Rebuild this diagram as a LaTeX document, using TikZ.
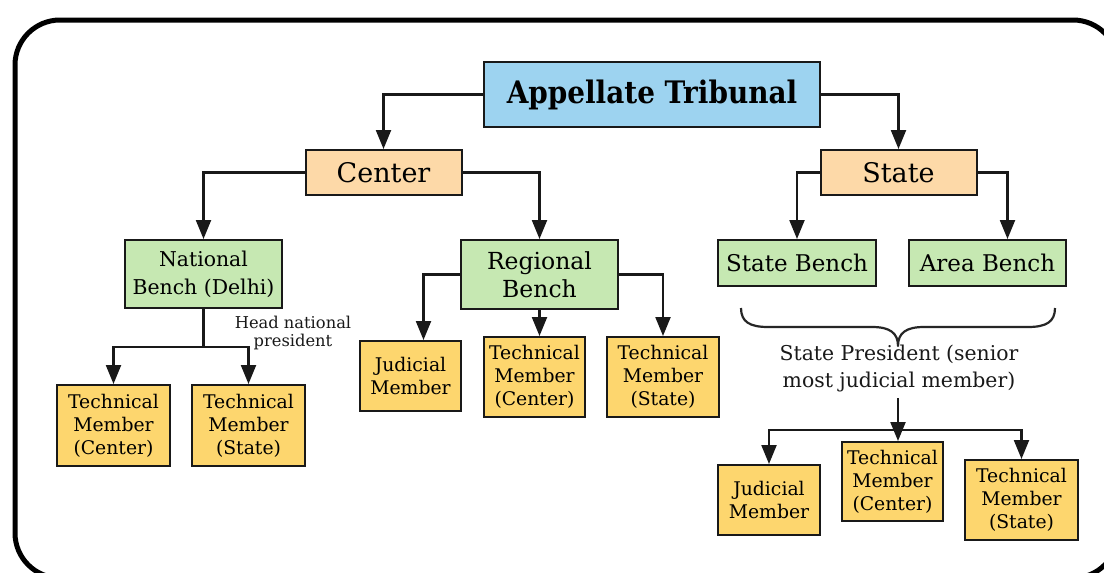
\documentclass[tikz,border=0pt]{standalone}
\usepackage{fontspec}
\setmainfont{DejaVu Serif}
\newfontfamily\condfont{DejaVu Serif Condensed}
\usetikzlibrary{arrows.meta}
\definecolor{boxblue}{RGB}{157,211,240}
\definecolor{boxpeach}{RGB}{253,217,168}
\definecolor{boxgreen}{RGB}{198,232,178}
\definecolor{boxyellow}{RGB}{253,214,110}
\tikzset{
  base/.style={draw=black!90, line width=2pt, align=center, inner sep=0pt, text=black},
  titlebox/.style={base, fill=boxblue, minimum width=336pt, minimum height=65pt, font=\condfont\bfseries\fontsize{31}{34}\selectfont},
  peachbox/.style={base, fill=boxpeach, minimum width=156pt, minimum height=45pt, font=\fontsize{27}{30}\selectfont},
  greenbox/.style={base, fill=boxgreen, minimum width=157pt, font=\fontsize{21}{28}\selectfont},
  yellowbox/.style={base, fill=boxyellow, font=\fontsize{18.8}{23}\selectfont},
  arr/.style={line width=2.2pt, draw=black!90, -{Triangle[length=19pt,width=15pt]}},
  ln/.style={line width=2.2pt, draw=black!90},
  note/.style={align=center, inner sep=0pt, text=black!90},
}
\begin{document}
\begin{tikzpicture}[x=1pt,y=-1pt]
\useasboundingbox (0,0) rectangle (1104,573);
\fill[white] (0,0) rectangle (1104,573);
\draw[line width=5pt, rounded corners=45pt] (15,20) rectangle (1118,578);

\node[titlebox] (at) at (652,94.5) {Appellate Tribunal};
\node[peachbox] (ce) at (383.5,172.5) {Center};
\node[peachbox] (st) at (898.5,172.5) {State};
\node[greenbox, minimum height=68pt, font=\fontsize{20.4}{28}\selectfont] (nb) at (203.5,274) {National\\Bench (Delhi)};
\node[greenbox, minimum height=69pt, font=\fontsize{23.5}{27.5}\selectfont] (rb) at (539.5,274.5) {Regional\\Bench};
\node[greenbox, minimum height=46pt, minimum width=158pt, font=\fontsize{23}{27}\selectfont] (sb) at (797,263) {State Bench};
\node[greenbox, minimum height=46pt, font=\fontsize{23}{27}\selectfont] (ab) at (987.5,263) {Area Bench};

\node[yellowbox, minimum width=113pt, minimum height=81pt] (tc1) at (113.5,425.5) {Technical\\Member\\(Center)};
\node[yellowbox, minimum width=113pt, minimum height=81pt] (ts1) at (248.5,425.5) {Technical\\Member\\(State)};
\node[yellowbox, minimum width=101pt, minimum height=70pt] (jm2) at (410.5,376) {Judicial\\Member};
\node[yellowbox, minimum width=101pt, minimum height=80pt] (tc2) at (534.5,377) {Technical\\Member\\(Center)};
\node[yellowbox, minimum width=112pt, minimum height=80pt] (ts2) at (663,377) {Technical\\Member\\(State)};
\node[yellowbox, minimum width=102pt, minimum height=70pt] (jm3) at (769,500) {Judicial\\Member};
\node[yellowbox, minimum width=101pt, minimum height=79pt] (tc3) at (892.5,481.5) {Technical\\Member\\(Center)};
\node[yellowbox, minimum width=113pt, minimum height=80pt] (ts3) at (1021.5,500) {Technical\\Member\\(State)};

\node[note, font=\fontsize{16.3}{18.5}\selectfont] (hnp) at (293,333) {Head national\\president};
\node[note, font=\fontsize{20.4}{27}\selectfont] (sp) at (899,369) {State President (senior\\most judicial member)};

% connectors
\draw[arr] (at.west) -| (ce.north);
\draw[arr] (at.east) -| (st.north);
\draw[arr] (ce.west) -| (nb.north);
\draw[arr] (ce.east) -| (rb.north);
\draw[arr] (st.west) -| (sb.north);
\draw[arr] (st.east) -| ([xshift=20pt]ab.north);

\coordinate (nbj) at (203.5,347);
\draw[ln] (nb.south) -- (nbj);
\draw[arr] (nbj) -| (tc1.north);
\draw[arr] (nbj) -| (ts1.north);

\draw[arr] (rb.west) -| ([xshift=13pt]jm2.north);
\draw[arr] (rb.south) -- (rb.south |- tc2.north);
\draw[arr] (rb.east) -| (ts2.north);

% brace
\draw[line width=2.2pt, draw=black!85, line join=round]
  (741,308) .. controls (741,322) and (750,327) .. (768,327)
  -- (872,327) .. controls (890,327) and (898,333) .. (898,346)
  .. controls (898,333) and (906,327) .. (924,327)
  -- (1028,327) .. controls (1046,327) and (1055,322) .. (1055,308);

\coordinate (spj) at (898,430);
\coordinate (sptop) at (898,398);
\draw[arr] (sptop) -- (sptop |- tc3.north);
\draw[arr] (spj) -| (jm3.north);
\draw[arr] (spj) -| (ts3.north);
\end{tikzpicture}
\end{document}
